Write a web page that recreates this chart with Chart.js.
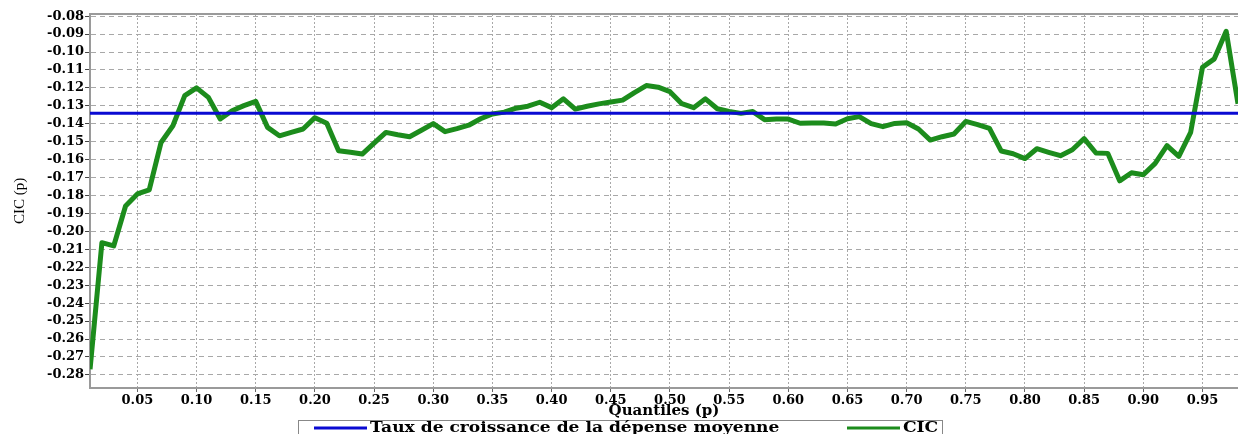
<!DOCTYPE html>
<html>
<head>
<meta charset="utf-8">
<script src="https://cdn.jsdelivr.net/npm/chart.js@4/dist/chart.umd.min.js"></script>
<style>
    body { margin: 0; background: #fff; }
    #wrap { width: 1238px; height: 434px; position: relative; }
</style>
</head>
<body>
<div id="wrap"><canvas id="cicChart"></canvas></div>
<script>
// Quantiles (p) et courbe CIC
const quantiles = [
    0.01, 0.02, 0.03, 0.04, 0.05, 0.06, 0.07, 0.08, 0.09, 0.10,
    0.11, 0.12, 0.13, 0.14, 0.15, 0.16, 0.17, 0.18, 0.19, 0.20,
    0.21, 0.22, 0.23, 0.24, 0.25, 0.26, 0.27, 0.28, 0.29, 0.30,
    0.31, 0.32, 0.33, 0.34, 0.35, 0.36, 0.37, 0.38, 0.39, 0.40,
    0.41, 0.42, 0.43, 0.44, 0.45, 0.46, 0.47, 0.48, 0.49, 0.50,
    0.51, 0.52, 0.53, 0.54, 0.55, 0.56, 0.57, 0.58, 0.59, 0.60,
    0.61, 0.62, 0.63, 0.64, 0.65, 0.66, 0.67, 0.68, 0.69, 0.70,
    0.71, 0.72, 0.73, 0.74, 0.75, 0.76, 0.77, 0.78, 0.79, 0.80,
    0.81, 0.82, 0.83, 0.84, 0.85, 0.86, 0.87, 0.88, 0.89, 0.90,
    0.91, 0.92, 0.93, 0.94, 0.95, 0.96, 0.97, 0.98
];

const cicValues = [
    -0.2768, -0.2063, -0.2081, -0.1858, -0.1791, -0.1768, -0.1504, -0.1411, -0.1243, -0.1200,
    -0.1253, -0.1373, -0.1327, -0.1299, -0.1275, -0.1420, -0.1467, -0.1448, -0.1429, -0.1366,
    -0.1397, -0.1550, -0.1559, -0.1569, -0.1508, -0.1448, -0.1461, -0.1472, -0.1436, -0.1399,
    -0.1444, -0.1427, -0.1408, -0.1372, -0.1345, -0.1335, -0.1313, -0.1302, -0.1280, -0.1310,
    -0.1261, -0.1318, -0.1302, -0.1289, -0.1279, -0.1268, -0.1226, -0.1187, -0.1196, -0.1221,
    -0.1288, -0.1310, -0.1261, -0.1316, -0.1331, -0.1342, -0.1332, -0.1377, -0.1373, -0.1374,
    -0.1397, -0.1396, -0.1396, -0.1401, -0.1372, -0.1360, -0.1399, -0.1416, -0.1398, -0.1394,
    -0.1429, -0.1491, -0.1472, -0.1457, -0.1387, -0.1405, -0.1426, -0.1552, -0.1567, -0.1594,
    -0.1539, -0.1559, -0.1578, -0.1545, -0.1483, -0.1563, -0.1565, -0.1718, -0.1673, -0.1684,
    -0.1621, -0.1522, -0.1582, -0.1448, -0.1085, -0.1038, -0.0884, -0.1289
];

// Taux de croissance de la dépense moyenne (constante)
const meanGrowth = -0.1342;

const yTicks = [
    -0.28, -0.27, -0.26, -0.25, -0.24, -0.23, -0.22, -0.21, -0.20, -0.19, -0.18,
    -0.17, -0.16, -0.15, -0.14, -0.13, -0.12, -0.11, -0.10, -0.09, -0.08
];
const xTicks = [
    0.05, 0.10, 0.15, 0.20, 0.25, 0.30, 0.35, 0.40, 0.45, 0.50,
    0.55, 0.60, 0.65, 0.70, 0.75, 0.80, 0.85, 0.90, 0.95
];

const seriesLabels = ['Taux de croissance de la dépense moyenne', 'CIC'];

const BLUE = '#0a0ad2';
const GREEN = '#1c8c1c';
const GRID = '#a8a8a8';
const AXIS = '#9a9a9a';

// Cadre du haut (ligne grise)
const framePlugin = {
    id: 'frame',
    beforeDatasetsDraw(chart) {
        const { ctx, chartArea } = chart;
        ctx.save();
        ctx.strokeStyle = AXIS;
        ctx.lineWidth = 2;
        ctx.beginPath();
        ctx.moveTo(chartArea.left, chartArea.top);
        ctx.lineTo(chartArea.right, chartArea.top);
        ctx.stroke();
        ctx.restore();
    }
};

// Légende encadrée en bas (texte un peu élargi comme sur l'original)
const boxLegendPlugin = {
    id: 'boxLegend',
    afterDraw(chart) {
        const ctx = chart.ctx;
        const datasets = chart.data.datasets;
        const top = 420;
        const left = 298;
        const width = 644;
        const midY = 428;
        const stretch = 1.22;
        ctx.save();
        ctx.fillStyle = '#fff';
        ctx.fillRect(left, top, width, 20);
        ctx.strokeStyle = '#888';
        ctx.lineWidth = 1;
        ctx.strokeRect(left + 0.5, top + 0.5, width, 20);
        ctx.font = 'bold 14px "DejaVu Serif"';
        ctx.textBaseline = 'middle';
        const starts = [314, 847];
        datasets.forEach((ds, i) => {
            const x = starts[i];
            ctx.strokeStyle = ds.borderColor;
            ctx.lineWidth = 3;
            ctx.beginPath();
            ctx.moveTo(x, midY);
            ctx.lineTo(x + 53, midY);
            ctx.stroke();
            ctx.save();
            ctx.translate(x + 56, midY);
            ctx.scale(stretch, 1);
            ctx.fillStyle = '#000';
            ctx.fillText(ds.label, 0, 0);
            ctx.restore();
        });
        ctx.restore();
    }
};

document.addEventListener('DOMContentLoaded', function() {
    createCicChart();
});

function createCicChart() {
    const ctx = document.getElementById('cicChart');
    const cicPoints = quantiles.map((q, i) => ({ x: q, y: cicValues[i] }));
    const meanPoints = [
        { x: 0, y: meanGrowth },
        { x: 1, y: meanGrowth }
    ];

    new Chart(ctx, {
        type: 'line',
        data: {
            datasets: [{
                label: seriesLabels[0],
                data: meanPoints,
                borderColor: BLUE,
                backgroundColor: BLUE,
                borderWidth: 3,
                pointRadius: 0,
                tension: 0,
                clip: 0
            }, {
                label: seriesLabels[1],
                data: cicPoints,
                borderColor: GREEN,
                backgroundColor: GREEN,
                borderWidth: 5,
                pointRadius: 0,
                tension: 0,
                borderJoinStyle: 'round',
                clip: 0
            }]
        },
        options: {
            responsive: true,
            maintainAspectRatio: false,
            animation: false,
            layout: {
                padding: { top: 14, right: 0, bottom: 13, left: 11 }
            },
            plugins: {
                legend: { display: false },
                tooltip: { enabled: false }
            },
            scales: {
                x: {
                    type: 'linear',
                    min: 0.01,
                    max: 0.98,
                    afterBuildTicks: function(scale) {
                        scale.ticks = xTicks.map(v => ({ value: v }));
                    },
                    ticks: {
                        color: '#000',
                        font: { family: 'DejaVu Serif', weight: 'bold', size: 13, lineHeight: 1 },
                        padding: 2,
                        maxRotation: 0,
                        autoSkip: false,
                        callback: v => v.toFixed(2)
                    },
                    grid: {
                        color: GRID,
                        lineWidth: 1,
                        tickLength: 4,
                        tickColor: '#666',
                        tickBorderDash: []
                    },
                    border: { color: AXIS, width: 2, dash: [2, 2] },
                    title: {
                        display: true,
                        text: 'Quantiles (p)',
                        color: '#000',
                        font: { family: 'DejaVu Serif', weight: 'bold', size: 15, lineHeight: 1 },
                        padding: { top: -5, bottom: 2 }
                    }
                },
                y: {
                    min: -0.2873,
                    max: -0.0788,
                    afterBuildTicks: function(scale) {
                        scale.ticks = yTicks.map(v => ({ value: v }));
                    },
                    ticks: {
                        color: '#000',
                        font: { family: 'DejaVu Serif', weight: 'bold', size: 13 },
                        padding: 1,
                        autoSkip: false,
                        callback: v => v.toFixed(2)
                    },
                    grid: {
                        color: GRID,
                        lineWidth: 1,
                        tickLength: 5,
                        tickColor: '#444',
                        tickBorderDash: []
                    },
                    border: { color: AXIS, width: 2, dash: [5, 4] },
                    title: {
                        display: true,
                        text: 'CIC (p)',
                        color: '#000',
                        font: { family: 'Liberation Serif', size: 15 },
                        padding: { top: 0, bottom: 17 }
                    }
                }
            }
        },
        plugins: [framePlugin, boxLegendPlugin]
    });
}
</script>
</body>
</html>
